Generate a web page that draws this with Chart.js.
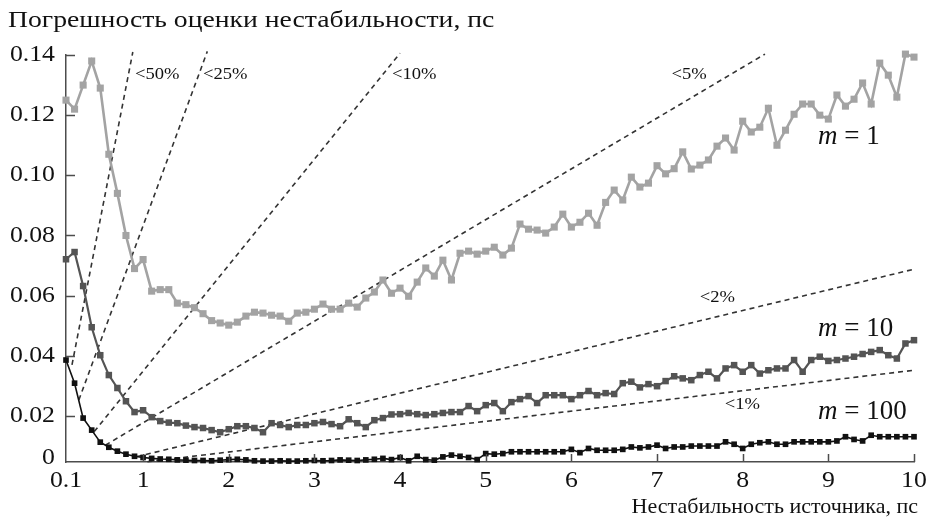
<!DOCTYPE html>
<html>
<head>
<meta charset="utf-8">
<script src="https://cdn.jsdelivr.net/npm/chart.js@4"></script>
<style>
  html, body { margin: 0; padding: 0; background: #fff; }
  canvas { display: block; }
</style>
</head>
<body>
<canvas id="c" width="928" height="522"></canvas>
<script>
// Source instability, ps (sampling grid of the estimate)
const instability = [
  0.1, 0.2, 0.3, 0.4, 0.5, 0.6, 0.7, 0.8, 0.9, 1.0,
  1.1, 1.2, 1.3, 1.4, 1.5, 1.6, 1.7, 1.8, 1.9, 2.0,
  2.1, 2.2, 2.3, 2.4, 2.5, 2.6, 2.7, 2.8, 2.9, 3.0,
  3.1, 3.2, 3.3, 3.4, 3.5, 3.6, 3.7, 3.8, 3.9, 4.0,
  4.1, 4.2, 4.3, 4.4, 4.5, 4.6, 4.7, 4.8, 4.9, 5.0,
  5.1, 5.2, 5.3, 5.4, 5.5, 5.6, 5.7, 5.8, 5.9, 6.0,
  6.1, 6.2, 6.3, 6.4, 6.5, 6.6, 6.7, 6.8, 6.9, 7.0,
  7.1, 7.2, 7.3, 7.4, 7.5, 7.6, 7.7, 7.8, 7.9, 8.0,
  8.1, 8.2, 8.3, 8.4, 8.5, 8.6, 8.7, 8.8, 8.9, 9.0,
  9.1, 9.2, 9.3, 9.4, 9.5, 9.6, 9.7, 9.8, 9.9, 10.0
];

// Estimation error, ps, for m = 1
const errM1 = [
  0.125, 0.122, 0.130, 0.138, 0.129, 0.107, 0.094, 0.080, 0.069, 0.072,
  0.0615, 0.062, 0.062, 0.0575, 0.057, 0.056, 0.054, 0.0517, 0.0509, 0.0502,
  0.0512, 0.0532, 0.0545, 0.0542, 0.0535, 0.0532, 0.0515, 0.0542, 0.0545, 0.0555,
  0.0572, 0.0555, 0.0555, 0.0575, 0.0562, 0.0592, 0.0612, 0.0652, 0.0608, 0.0625,
  0.0598, 0.0645, 0.0692, 0.0665, 0.0718, 0.0652, 0.0741, 0.0748, 0.0738, 0.0748,
  0.0761, 0.0735, 0.0758, 0.0838, 0.0821, 0.0818, 0.0808, 0.0828, 0.0871, 0.0828,
  0.0844, 0.0874, 0.0834, 0.0910, 0.0951, 0.0918, 0.0994, 0.0961, 0.0974, 0.1032,
  0.1005, 0.1022, 0.1078, 0.1021, 0.1034, 0.1051, 0.1097, 0.1124, 0.1084, 0.1180,
  0.1144, 0.1160, 0.1223, 0.1100, 0.1150, 0.1203, 0.1237, 0.1237, 0.1200, 0.1187,
  0.1267, 0.1230, 0.1253, 0.1307, 0.1237, 0.1373, 0.1333, 0.1260, 0.1403, 0.1393
];

// Estimation error, ps, for m = 10
const errM10 = [
  0.0721, 0.0745, 0.0632, 0.0495, 0.0402, 0.0336, 0.0293, 0.0249, 0.0213, 0.0219,
  0.0196, 0.0183, 0.0178, 0.0176, 0.0168, 0.0163, 0.0160, 0.0153, 0.0146, 0.0156,
  0.0166, 0.0166, 0.0160, 0.0146, 0.0176, 0.0170, 0.0163, 0.0170, 0.0170, 0.0176,
  0.0180, 0.0173, 0.0166, 0.0189, 0.0176, 0.0163, 0.0186, 0.0193, 0.0205, 0.0206,
  0.0210, 0.0206, 0.0203, 0.0206, 0.0210, 0.0213, 0.0213, 0.0233, 0.0216, 0.0236,
  0.0243, 0.0216, 0.0246, 0.0256, 0.0266, 0.0243, 0.0269, 0.0269, 0.0269, 0.0256,
  0.0269, 0.0283, 0.0269, 0.0276, 0.0273, 0.0309, 0.0314, 0.0295, 0.0306, 0.0299,
  0.0316, 0.0332, 0.0325, 0.0319, 0.0336, 0.0347, 0.0325, 0.0358, 0.0369, 0.0347,
  0.0369, 0.0341, 0.0352, 0.0358, 0.0358, 0.0386, 0.0347, 0.0386, 0.0397, 0.0383,
  0.0386, 0.0391, 0.0397, 0.0406, 0.0413, 0.0419, 0.0402, 0.0391, 0.0441, 0.0452
];

// Estimation error, ps, for m = 100
const errM100 = [
  0.0386, 0.0309, 0.0193, 0.0153, 0.0113, 0.0096, 0.0083, 0.0073, 0.0066, 0.0062,
  0.0059, 0.0057, 0.0056, 0.0054, 0.0053, 0.0052, 0.0052, 0.0051, 0.0053, 0.0055,
  0.0056, 0.0054, 0.0051, 0.0050, 0.0050, 0.0051, 0.0050, 0.0050, 0.0051, 0.0052,
  0.0051, 0.0052, 0.0054, 0.0053, 0.0052, 0.0054, 0.0056, 0.0059, 0.0055, 0.0062,
  0.0051, 0.0066, 0.0055, 0.0053, 0.0064, 0.0070, 0.0066, 0.0062, 0.0055, 0.0075,
  0.0073, 0.0075, 0.0081, 0.0081, 0.0081, 0.0081, 0.0081, 0.0081, 0.0081, 0.0089,
  0.0078, 0.0092, 0.0086, 0.0086, 0.0086, 0.0089, 0.0097, 0.0094, 0.0097, 0.0103,
  0.0092, 0.0097, 0.0097, 0.0100, 0.0100, 0.0100, 0.0100, 0.0114, 0.0106, 0.0092,
  0.0106, 0.0111, 0.0114, 0.0106, 0.0106, 0.0114, 0.0114, 0.0114, 0.0114, 0.0114,
  0.0117, 0.0131, 0.0122, 0.0117, 0.0136, 0.0131, 0.0131, 0.0131, 0.0131, 0.0131
];

const seriesNames = ['m = 1', 'm = 10', 'm = 100'];

// Relative-error bounds (dashed guide lines): label, start point, end point [x, error]
const boundLabels = ['<50%', '<25%', '<10%', '<5%', '<2%', '<1%'];
const boundFrom = [[0.17, 0.037], [0.25, 0.0253], [0.43, 0.0148], [0.56, 0.0103], [0.93, 0.0065], [1.05, 0.0048]];
const boundTo   = [[0.88, 0.1410], [1.75, 0.1412], [4.0, 0.1406], [8.26, 0.1403], [10.0, 0.0688], [10.0, 0.0352]];

// Axis ticks
const xTickValues = [0.1, 1, 2, 3, 4, 5, 6, 7, 8, 9, 10];
const xTickLabels = ['0.1', '1', '2', '3', '4', '5', '6', '7', '8', '9', '10'];
const yAxisFloor = 0.0047;   // lower edge of the error axis, marked "0"
const yTickValues = [yAxisFloor, 0.02, 0.04, 0.06, 0.08, 0.10, 0.12, 0.14];
const yTickLabels = ['0', '0.02', '0.04', '0.06', '0.08', '0.10', '0.12', '0.14'];

const xTitle = 'Нестабильность источника, пс';
const yTitle = 'Погрешность оценки нестабильности, пс';

const SERIF = '"Liberation Serif", "DejaVu Serif", serif';
const AXIS_COLOR = '#4d4d4d';

const toPoints = vals => vals.map((v, i) => ({ x: instability[i], y: v }));

const seriesStyles = [
  { color: '#a3a3a3', width: 2.6, radius: 5.0 },
  { color: '#545454', width: 2.2, radius: 4.6 },
  { color: '#111111', width: 1.6, radius: 4.0 }
];

const seriesSets = [errM1, errM10, errM100].map((vals, i) => ({
  label: seriesNames[i],
  data: toPoints(vals),
  showLine: true,
  borderColor: seriesStyles[i].color,
  backgroundColor: seriesStyles[i].color,
  borderWidth: seriesStyles[i].width,
  pointStyle: 'rect',
  pointRadius: seriesStyles[i].radius,
  pointBorderWidth: 0,
  tension: 0,
  clip: false,
  order: 0
}));

const boundSets = boundLabels.map((lab, i) => ({
  label: lab,
  data: [{ x: boundFrom[i][0], y: boundFrom[i][1] }, { x: boundTo[i][0], y: boundTo[i][1] }],
  showLine: true,
  borderColor: '#333333',
  borderWidth: 1.6,
  borderDash: [5, 4],
  pointRadius: 0,
  clip: false,
  order: 1
}));

// text drawn with a horizontal stretch factor sx
function drawText(ctx, text, x, y, font, align, sx) {
  ctx.save();
  ctx.font = font;
  ctx.textAlign = align;
  ctx.textBaseline = 'middle';
  ctx.translate(x, y);
  ctx.scale(sx, 1);
  ctx.fillText(text, 0, 0);
  ctx.restore();
}

// Inward tick marks, tick labels, curve labels, bound labels and axis titles
const decor = {
  id: 'decor',
  afterDraw(chart) {
    const { ctx, chartArea: a, scales: { x, y } } = chart;
    ctx.save();
    ctx.strokeStyle = AXIS_COLOR;
    ctx.lineWidth = 1.5;
    ctx.beginPath();
    xTickValues.slice(1).forEach(v => {
      const px = Math.round(x.getPixelForValue(v)) + 0.5;
      ctx.moveTo(px, a.bottom);
      ctx.lineTo(px, a.bottom - 8);
    });
    yTickValues.slice(1).forEach(v => {
      const py = Math.round(y.getPixelForValue(v)) + 0.5;
      ctx.moveTo(a.left, py);
      ctx.lineTo(a.left + 9, py);
    });
    ctx.stroke();
    ctx.fillStyle = '#111';

    const tickFont = '23px ' + SERIF;
    xTickValues.forEach((v, i) => {
      drawText(ctx, xTickLabels[i], x.getPixelForValue(v), a.bottom + 19, tickFont, 'center', 1.12);
    });
    yTickValues.forEach((v, i) => {
      const py = y.getPixelForValue(v) - (i === 0 ? 4 : 0);
      drawText(ctx, yTickLabels[i], a.left - 11, py, tickFont, 'right', 1.12);
    });

    // bound labels
    const boundAnchor = [[0.905, 0.1333], [1.70, 0.1333], [3.905, 0.1335], [7.17, 0.1335], [7.5, 0.0592], [7.79, 0.0236]];
    boundLabels.forEach((lab, i) => {
      drawText(ctx, lab, x.getPixelForValue(boundAnchor[i][0]), y.getPixelForValue(boundAnchor[i][1]),
        '16px ' + SERIF, 'left', 1.16);
    });

    // curve labels: italic m, upright rest
    const curveAnchor = [[8.88, 0.1127], [8.88, 0.0489], [8.88, 0.0213]];
    seriesNames.forEach((name, i) => {
      const px = x.getPixelForValue(curveAnchor[i][0]);
      const py = y.getPixelForValue(curveAnchor[i][1]);
      ctx.font = 'italic 27px ' + SERIF;
      const w = ctx.measureText('m').width;
      drawText(ctx, 'm', px, py, 'italic 27px ' + SERIF, 'left', 1);
      drawText(ctx, name.slice(1), px + w, py, '27px ' + SERIF, 'left', 1);
    });

    // axis titles
    drawText(ctx, yTitle, 8, 21, '22.5px ' + SERIF, 'left', 1.23);
    drawText(ctx, xTitle, 918, 507, '22px ' + SERIF, 'right', 1.0);
    ctx.restore();
  }
};

new Chart(document.getElementById('c'), {
  type: 'scatter',
  data: { datasets: [...seriesSets, ...boundSets] },
  options: {
    responsive: false,
    animation: false,
    devicePixelRatio: 1,
    layout: { padding: { left: 0, right: 14, top: 55, bottom: 0 } },
    plugins: { legend: { display: false }, tooltip: { enabled: false } },
    scales: {
      x: {
        type: 'linear',
        min: 0.1,
        max: 10,
        afterBuildTicks: s => { s.ticks = xTickValues.map(v => ({ value: v })); },
        afterFit: s => { s.height = 60; },
        grid: { display: false, drawTicks: false },
        border: { display: true, color: AXIS_COLOR, width: 1.5 },
        ticks: { display: false }
      },
      y: {
        type: 'linear',
        min: yAxisFloor,
        max: 0.14,
        afterBuildTicks: s => { s.ticks = yTickValues.map(v => ({ value: v })); },
        afterFit: s => { s.width = 66; },
        grid: { display: false, drawTicks: false },
        border: { display: true, color: AXIS_COLOR, width: 1.5 },
        ticks: { display: false }
      }
    }
  },
  plugins: [decor]
});
</script>
</body>
</html>
